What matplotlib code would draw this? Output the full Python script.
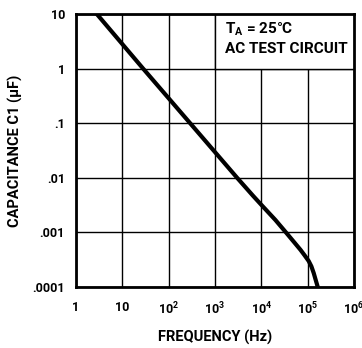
import matplotlib
matplotlib.use("Agg")
import matplotlib.pyplot as plt
from matplotlib.patches import Rectangle

# curve
freq = [2.8, 28, 290, 3000, 6600, 10000, 20000, 34000, 52000, 70000, 86000, 105000, 120000, 135000, 150000, 165000]
cap = [10, 1, 0.1, 0.01, 0.0047, 0.0032, 0.0017, 0.001, 0.00065, 0.00048, 0.00038, 0.0003, 0.00024, 0.00018, 0.000132, 0.0001]

x_ticks = [1, 10, 1e2, 1e3, 1e4, 1e5, 1e6]
x_labels = ["1", "10", "$\\mathbf{10^2}$", "$\\mathbf{10^3}$", "$\\mathbf{10^4}$", "$\\mathbf{10^5}$", "$\\mathbf{10^6}$"]
y_ticks = [1e-4, 1e-3, 1e-2, 1e-1, 1, 10]
y_labels = [".0001", ".001", ".01", ".1", "1", "10"]

plt.rcParams["font.family"] = ["Roboto", "DejaVu Sans"]
plt.rcParams["mathtext.fontset"] = "custom"
plt.rcParams["mathtext.bf"] = "Roboto:bold"
plt.rcParams["mathtext.rm"] = "Roboto:bold"

fs = 9

fig = plt.figure(figsize=(3.62, 3.48), dpi=100)
ax = fig.add_axes([0.21, 0.175, 0.768, 0.785])

ax.set_xscale("log")
ax.set_yscale("log")
ax.set_xlim(1, 1e6)
ax.set_ylim(1e-4, 10)

ax.set_xticks(x_ticks)
ax.set_xticklabels(x_labels, fontsize=fs, fontweight="bold")
ax.set_yticks(y_ticks)
ax.set_yticklabels(y_labels, fontsize=fs, fontweight="bold")
ax.minorticks_off()
ax.tick_params(axis="x", length=0, pad=10)
ax.tick_params(axis="y", length=0, pad=8)

ax.grid(True, color="black", linewidth=1.0, zorder=1)
for s in ax.spines.values():
    s.set_linewidth(2)

# white box behind the note in the top right
ax.add_patch(Rectangle((1e3, 1), 1e6 - 1e3, 9, facecolor="white", edgecolor="none", zorder=2))
ax.plot([1e3, 1e3], [1, 10], color="black", linewidth=1.0, zorder=3)
ax.plot([1e3, 1e6], [1, 1], color="black", linewidth=1.0, zorder=3)

ax.plot(freq, cap, color="black", linewidth=3, zorder=4, solid_joinstyle="round")

ax.text(0.536, 0.945, "T$_\\mathbf{A}$ = 25°C", transform=ax.transAxes, fontsize=11,
        fontweight="bold", va="center", ha="left", zorder=5)
ax.text(0.536, 0.872, "AC TEST CIRCUIT", transform=ax.transAxes, fontsize=11,
        fontweight="bold", va="center", ha="left", zorder=5)

ax.set_xlabel("FREQUENCY (Hz)", fontsize=10.5, fontweight="bold", labelpad=9)
ax.set_ylabel("CAPACITANCE C1 (µF)", fontsize=10.5, fontweight="bold", labelpad=6.5)

fig.savefig("out.png", dpi=100)
